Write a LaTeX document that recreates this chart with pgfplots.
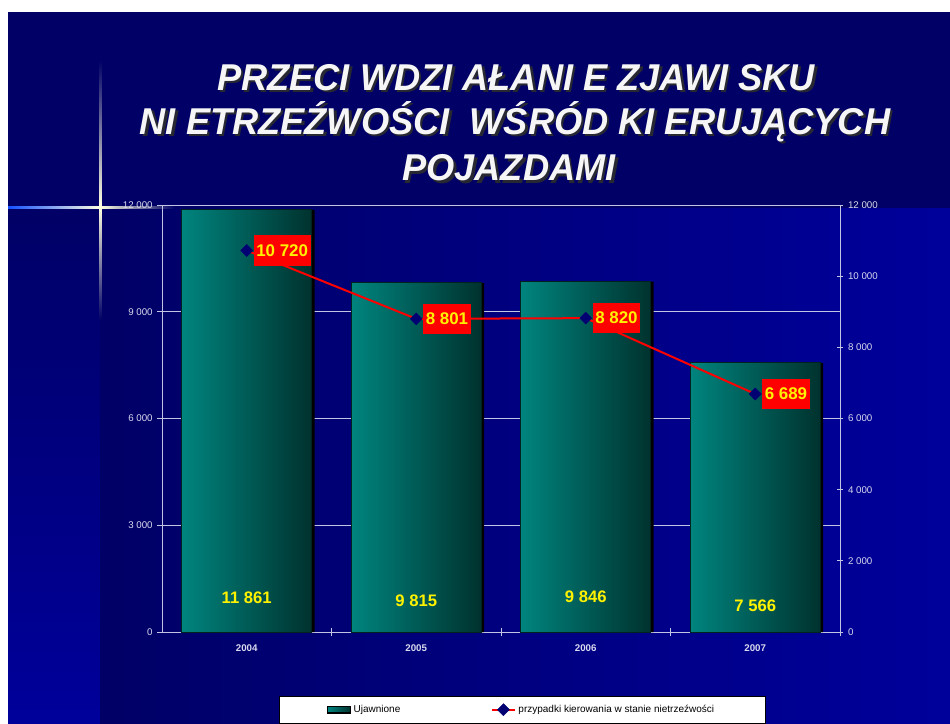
\documentclass[border=0pt]{standalone}
\usepackage{fontspec}
\setmainfont{Liberation Sans}
\newfontfamily\titlefont[FakeStretch=0.97]{Liberation Sans}
\usepackage{pgfplots}
\pgfplotsset{compat=1.18}

\definecolor{bgdark}{RGB}{0,0,102}
\definecolor{bgbright}{RGB}{0,0,155}
\definecolor{barL}{RGB}{0,132,126}
\definecolor{barR}{RGB}{0,50,46}
\definecolor{axcol}{RGB}{195,195,228}
\definecolor{ticklab}{RGB}{218,218,238}
\definecolor{navymark}{RGB}{0,0,115}
\definecolor{sparkblue}{RGB}{20,80,255}
\definecolor{sparkwhite}{RGB}{255,255,225}
\definecolor{titleshadow}{RGB}{40,40,50}

\pgfplotsset{
  mybar/.style={ybar, bar width=0.767, bar shift=0pt, left color=barL, right color=barR,
    draw={rgb,255:red,0;green,35;blue,32}, line width=0.7pt},
}

\begin{document}
\begin{tikzpicture}
\begin{scope}[x=0.75pt,y=-0.75pt]
\path[use as bounding box] (0,0) rectangle (950,724);
\fill[white] (0,0) rectangle (950,724);
\fill[bgdark] (8,12) rectangle (950,724);
\shade[top color=bgdark, bottom color=bgbright] (8,208) rectangle (100,724);
\shade[left color=bgdark, right color=bgbright] (100,208) rectangle (950,724);
% sparkle
\shade[left color=sparkblue, right color=sparkwhite] (8,206) rectangle (100,208.5);
\shade[left color=sparkwhite, right color=bgdark] (100,206) rectangle (175,208.5);
\shade[top color=bgdark, bottom color=sparkwhite] (99,60) rectangle (101.5,207);
\shade[top color=sparkwhite, bottom color=bgdark] (99,207) rectangle (101.5,320);
% title
\foreach \dx/\dy/\col in {2.5/2.5/titleshadow, 0/0/{white!93!gray}} {
  \node[anchor=base, text=\col, font=\titlefont\bfseries\itshape\fontsize{28}{32}\selectfont, inner sep=0pt]
    at (516+\dx, 90+\dy) {PRZECI WDZI AŁANI E ZJAWI SKU};
  \node[anchor=base, text=\col, font=\titlefont\bfseries\itshape\fontsize{28}{32}\selectfont, inner sep=0pt]
    at (515+\dx, 134.5+\dy) {NI ETRZEŹWOŚCI\ \ WŚRÓD KI ERUJĄCYCH};
  \node[anchor=base, text=\col, font=\titlefont\bfseries\itshape\fontsize{28}{32}\selectfont, inner sep=0pt]
    at (509+\dx, 180.5+\dy) {POJAZDAMI};
}
\end{scope}

\begin{axis}[
  at={(121.5pt,-474pt)}, anchor=south west,
  width=508.5pt, height=320.25pt, scale only axis,
  xmin=-0.5, xmax=3.5, ymin=0, ymax=12000,
  axis x line*=bottom, axis y line*=left,
  axis line style={-, axcol, line width=0.75pt},
  xtick={0,1,2,3}, xticklabels={2004,2005,2006,2007},
  minor xtick={0.5,1.5,2.5,3.5},
  major x tick style={draw=none},
  minor x tick style={axcol, line width=0.75pt},
  minor tick length=6pt,
  xtick align=center,
  ytick={0,3000,6000,9000,12000},
  ytick align=outside,
  major tick length=3.5pt,
  y tick style={axcol, line width=0.75pt},
  ymajorgrids, grid style={axcol, line width=0.75pt},
  scaled y ticks=false,
  yticklabel style={font=\fontsize{7.3}{9}\selectfont, text=ticklab, /pgf/number format/.cd, assume math mode=true, 1000 sep={\ }},
  xticklabel style={font=\bfseries\fontsize{7.3}{9}\selectfont, text=ticklab, yshift=-4.5pt},
]
\addplot[ybar, bar width=0.767, bar shift=2.2pt, fill=black, draw=none]
  coordinates {(0,11861) (1,9815) (2,9846) (3,7566)};
\addplot[mybar] coordinates {(0,11861)};
\addplot[mybar] coordinates {(1,9815)};
\addplot[mybar] coordinates {(2,9846)};
\addplot[mybar] coordinates {(3,7566)};
\addplot[only marks, mark=*, mark size=0.01pt, mark options={draw=none, fill=none},
  nodes near coords, point meta=explicit symbolic,
  every node near coord/.append style={anchor=center, text=yellow, font=\bfseries\fontsize{12.5}{14}\selectfont}]
  coordinates {(0,955)[11 861] (1,880)[9 815] (2,983)[9 846] (3,730)[7 566]};
\end{axis}

\begin{axis}[
  at={(121.5pt,-474pt)}, anchor=south west,
  width=508.5pt, height=320.25pt, scale only axis,
  xmin=-0.5, xmax=3.5, ymin=0, ymax=12000,
  axis x line=none, axis y line*=right,
  axis line style={-, axcol, line width=0.75pt},
  ytick={0,2000,4000,6000,8000,10000,12000},
  ytick align=center, major tick length=5pt,
  y tick style={axcol, line width=0.75pt},
  scaled y ticks=false,
  yticklabel style={font=\fontsize{7.3}{9}\selectfont, text=ticklab, /pgf/number format/.cd, assume math mode=true, 1000 sep={\ }},
  legend columns=2,
  legend style={at={(0.531,-0.15)}, anchor=north, draw=black, fill=white, text=black,
    font=\fontsize{7.5}{9}\selectfont, inner xsep=36pt, inner ysep=4.5pt,
    /tikz/every even column/.append style={column sep=66pt}},
]
\addlegendimage{legend image code/.code={\draw[left color=barL, right color=barR, draw=black, line width=0.8pt] (0pt,-2.5pt) rectangle (17pt,2.5pt);}}
\addlegendentry{Ujawnione}
\addplot[red, line width=1.5pt, mark=square*, mark size=3.2pt,
  mark options={rotate=45, fill=navymark, draw=navymark, line width=0.3pt},
  nodes near coords, point meta=explicit symbolic,
  every node near coord/.append style={anchor=west, xshift=5pt, fill=red, text=yellow,
    font=\bfseries\fontsize{12.7}{14}\selectfont, inner xsep=2pt, inner ysep=7pt}]
  coordinates {(0,10720)[10 720] (1,8801)[8 801] (2,8820)[8 820] (3,6689)[6 689]};
\addlegendentry{przypadki kierowania w stanie nietrzeźwości}
\end{axis}
\end{tikzpicture}
\end{document}
